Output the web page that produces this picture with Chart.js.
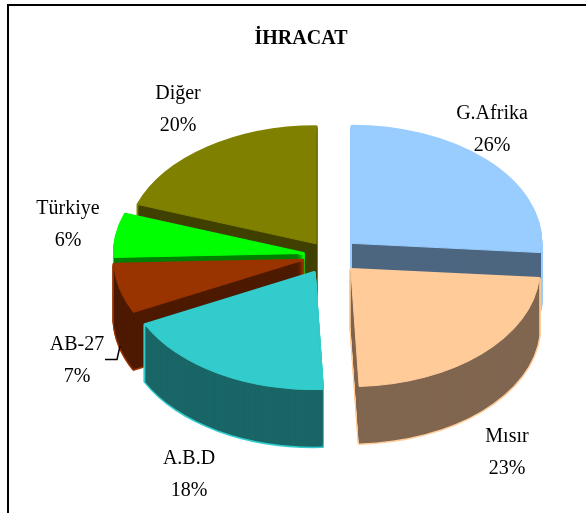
<!DOCTYPE html>
<html lang="tr">
<head>
<meta charset="utf-8">
<style>html,body{margin:0;padding:0;background:#fff}#w{width:586px;height:513px}canvas{display:block}</style>
<script src="https://cdn.jsdelivr.net/npm/chart.js@4/dist/chart.umd.min.js"></script>
</head>
<body>
<div id="w"><canvas id="c" width="586" height="513"></canvas></div>
<script>
const chartTitle = 'İHRACAT';
const categories = ['G.Afrika', 'Mısır', 'A.B.D', 'AB-27', 'Türkiye', 'Diğer'];
const shares = [26.3, 23.1, 18.4, 6.8, 6.0, 19.6];

const topColors = ['#99CCFF', '#FFCC99', '#33CCCC', '#993300', '#00FF00', '#808000'];
const sideColors = ['#4D6680', '#806650', '#1A6666', '#4D1A00', '#008000', '#404000'];
const explode = [30, 30, 31, 28, 27, 24];
const paintOrder = [0, 5, 4, 3, 2, 1];
const labelSpots = [[492, 114], [507, 437], [189, 459], [77, 345], [68, 209], [178, 94]];

const pieCentre = { x: 330, y: 256 };
const squash = 0.62;
const depth = 57;
const lineGap = 32;

function slicePath(ctx, arc, off, drop) {
  const p = arc.getProps(['x', 'y', 'startAngle', 'endAngle', 'outerRadius'], true);
  const mid = (p.startAngle + p.endAngle) / 2;
  const ox = Math.cos(mid) * off, oy = Math.sin(mid) * off;
  ctx.save();
  ctx.translate(pieCentre.x, pieCentre.y + drop);
  ctx.scale(1, squash);
  ctx.beginPath();
  ctx.moveTo(ox, oy);
  ctx.arc(ox, oy, p.outerRadius, p.startAngle, p.endAngle);
  ctx.closePath();
  ctx.restore();
}

const pie3d = {
  id: 'pie3d',
  beforeDraw(chart) {
    const ctx = chart.ctx;
    ctx.save();
    ctx.strokeStyle = '#000';
    ctx.lineWidth = 2;
    ctx.beginPath();
    ctx.moveTo(8, 513);
    ctx.lineTo(8, 5);
    ctx.lineTo(586, 5);
    ctx.stroke();
    ctx.restore();
  },
  beforeDatasetDraw(chart, args) {
    const ctx = chart.ctx;
    const arcs = args.meta.data;
    ctx.save();
    paintOrder.forEach(i => {
      const arc = arcs[i];
      ctx.lineJoin = 'round';
      ctx.lineWidth = 3;
      ctx.strokeStyle = topColors[i];
      ctx.fillStyle = topColors[i];
      for (let d = depth; d >= 0; d--) {
        slicePath(ctx, arc, explode[i], d);
        ctx.stroke();
      }
      ctx.fillStyle = sideColors[i];
      for (let d = depth; d >= 2; d--) {
        slicePath(ctx, arc, explode[i], d);
        ctx.fill();
      }
      ctx.fillStyle = topColors[i];
      ctx.lineWidth = 1;
      slicePath(ctx, arc, explode[i], 0);
      ctx.fill();
      ctx.stroke();
    });
    ctx.restore();
    return false;
  },
  afterDatasetsDraw(chart) {
    const ctx = chart.ctx;
    const total = shares.reduce((a, b) => a + b, 0);
    ctx.save();
    ctx.fillStyle = '#000';
    ctx.font = '20px "Liberation Serif"';
    ctx.textAlign = 'center';
    ctx.textBaseline = 'middle';
    categories.forEach((name, i) => {
      const [x, y] = labelSpots[i];
      ctx.fillText(name, x, y);
      ctx.fillText(Math.round(shares[i] / total * 100) + '%', x, y + lineGap);
    });
    ctx.strokeStyle = '#000';
    ctx.lineWidth = 1.5;
    ctx.beginPath();
    ctx.moveTo(105, 359.5);
    ctx.lineTo(117, 359.5);
    ctx.lineTo(120, 346);
    ctx.stroke();
    ctx.restore();
  }
};

new Chart(document.getElementById('c'), {
  type: 'pie',
  data: {
    labels: categories,
    datasets: [{ data: shares, backgroundColor: topColors, offset: explode, borderWidth: 0 }]
  },
  options: {
    responsive: false,
    animation: false,
    radius: 189,
    layout: { padding: { left: 16 } },
    plugins: {
      legend: { display: false },
      tooltip: { enabled: false },
      title: {
        display: true,
        text: chartTitle,
        color: '#000',
        font: { family: '"Liberation Serif"', size: 20, weight: 'bold' },
        padding: { top: 27, bottom: 10 }
      }
    }
  },
  plugins: [pie3d]
});
</script>
</body>
</html>
